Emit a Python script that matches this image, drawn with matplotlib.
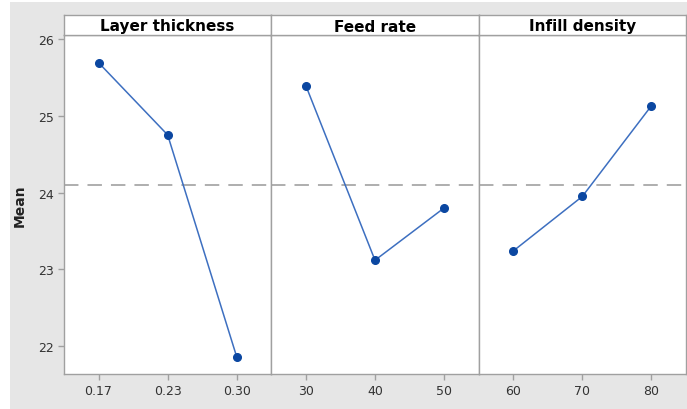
import matplotlib.pyplot as plt
from matplotlib.patches import Rectangle

factores = ["Layer thickness", "Feed rate", "Infill density"]
niveles = [["0.17", "0.23", "0.30"], ["30", "40", "50"], ["60", "70", "80"]]
medias = [[25.69, 24.75, 21.86], [25.39, 23.12, 23.80], [23.24, 23.95, 25.13]]
media_global = 24.1

fig = plt.figure(figsize=(6.87, 4.10), dpi=100, facecolor="white")
# fondo gris tipo Minitab
fig.patches.append(Rectangle((10 / 687, 0), 1, 1 - 3 / 410, transform=fig.transFigure,
                             facecolor="#e6e6e6", edgecolor="none", zorder=-10))

gs = fig.add_gridspec(2, 3, left=64 / 687, right=686 / 687, bottom=1 - 375 / 410,
                      top=1 - 16 / 410, height_ratios=[20, 339], hspace=0, wspace=0)

marco = "#a0a0a0"
for i in range(3):
    ax = fig.add_subplot(gs[1, i])
    cab = fig.add_subplot(gs[0, i])
    x = list(range(len(niveles[i])))
    ax.axhline(media_global, color="#a8a8a8", linestyle=(0, (8, 5)), linewidth=1.3, zorder=1)
    ax.plot(x, medias[i], color="#3d6fc0", linewidth=1.1, marker="o", markersize=5.5,
            markerfacecolor="#0b47a1", markeredgecolor="#0b47a1", zorder=3)
    ax.set_xlim(-0.5, 2.5)
    ax.set_ylim(21.64, 26.05)
    ax.set_xticks(x)
    ax.set_xticklabels(niveles[i])
    ax.tick_params(colors=marco, labelcolor="#333333", labelsize=9, length=4, width=1)
    if i == 0:
        ax.set_yticks([22, 23, 24, 25, 26])
        ax.set_ylabel("Mean", fontsize=10, fontweight="bold", color="#222222", labelpad=8)
    else:
        ax.tick_params(axis="y", left=False, labelleft=False)
    for s in ax.spines.values():
        s.set_color(marco)
        s.set_linewidth(1)

    cab.set_xticks([])
    cab.set_yticks([])
    for s in cab.spines.values():
        s.set_color(marco)
        s.set_linewidth(1)
    cab.text(0.5, 0.45, factores[i], transform=cab.transAxes, ha="center", va="center",
             fontsize=11, fontweight="bold", color="black")

plt.savefig("out.png", dpi=100, facecolor=fig.get_facecolor())
